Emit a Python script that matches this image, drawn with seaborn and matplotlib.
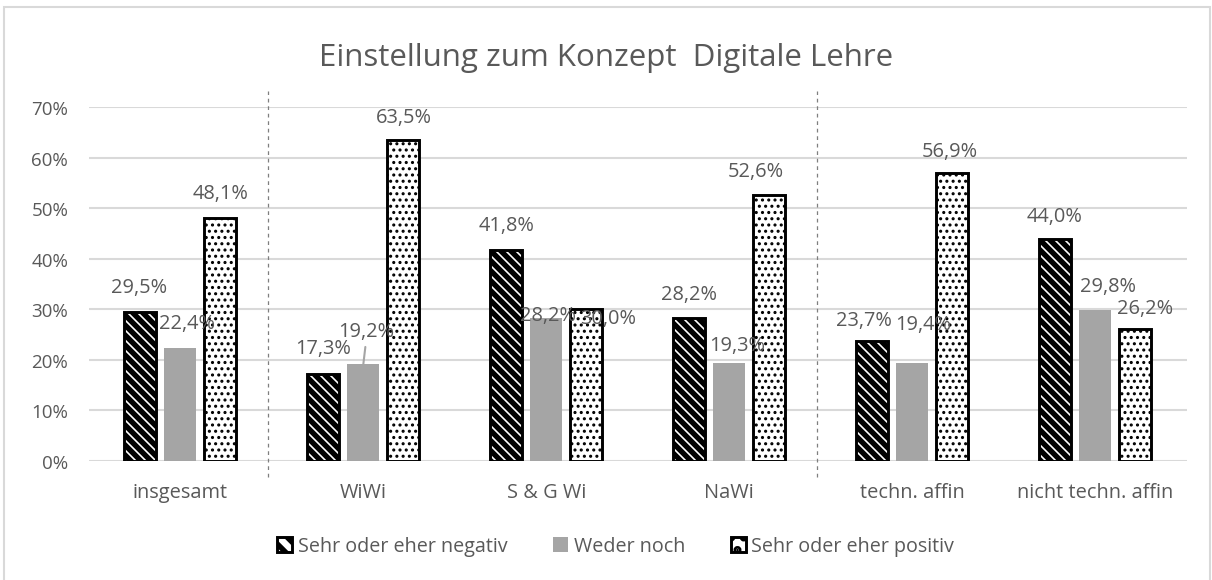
import pandas as pd
import seaborn as sns
import matplotlib.pyplot as plt
from matplotlib.patches import Rectangle, Patch
import matplotlib.transforms as mtransforms

# data
categories = ["insgesamt", "WiWi", "S & G Wi", "NaWi", "techn. affin", "nicht techn. affin"]
series = ["Sehr oder eher negativ", "Weder noch", "Sehr oder eher positiv"]
negativ = [29.5, 17.3, 41.8, 28.2, 23.7, 44.0]
weder = [22.4, 19.2, 28.2, 19.3, 19.4, 29.8]
positiv = [48.1, 63.5, 30.0, 52.6, 56.9, 26.2]
y_ticks = [0, 10, 20, 30, 40, 50, 60, 70]

rows = []
for name, vals in zip(series, [negativ, weder, positiv]):
    for cat, v in zip(categories, vals):
        rows.append({"Kategorie": cat, "Serie": name, "Wert": v / 100})
df = pd.DataFrame(rows)

sns.set_theme(style="white")
plt.rcParams["font.family"] = ["Open Sans", "DejaVu Sans"]
plt.rcParams["hatch.linewidth"] = 2.6
txt = "#595959"
PX = 72 / 150  # pixels -> points

fig = plt.figure(figsize=(8.08, 3.873), dpi=150)
ax = fig.add_axes([0.0734, 0.2048, 0.9056, 0.6092])

palette = {"Sehr oder eher negativ": "white", "Weder noch": "#A5A5A5", "Sehr oder eher positiv": "white"}
sns.barplot(data=df, x="Kategorie", y="Wert", hue="Serie", order=categories, hue_order=series,
            palette=palette, width=0.656, gap=0.2, legend=False, ax=ax, saturation=1)

stripes = "\\" * 5
dots = "...."
hatches = [stripes, "", dots]
for cont, h in zip(ax.containers, hatches):
    for bar in cont:
        if h:
            bar.set_hatch(h)
            bar.set_edgecolor("black")
            bar.set_linewidth(1.4)
            if h == dots and hasattr(bar, "set_hatch_linewidth"):
                bar.set_hatch_linewidth(0.9)
        else:
            bar.set_edgecolor("none")

# label offsets in pixels (dx, dy), keyed by (series, category)
offsets = {
    (0, 0): (-1, 25), (1, 0): (7, 25), (2, 0): (0, 25),
    (0, 1): (0, 26), (1, 1): (3, 33), (2, 1): (1, 23),
    (0, 2): (0, 25), (1, 2): (2, 3), (2, 2): (22, -9),
    (0, 3): (0, 24), (1, 3): (8, 18), (2, 3): (-13, 24),
    (0, 4): (-8, 21), (1, 4): (11, 39), (2, 4): (-2, 22),
    (0, 5): (-1, 23), (1, 5): (13, 24), (2, 5): (10, 21),
}
for si, cont in enumerate(ax.containers):
    for ci, bar in enumerate(cont):
        v = bar.get_height()
        dx, dy = offsets[(si, ci)]
        ax.annotate(f"{v*100:.1f}%".replace(".", ","),
                    (bar.get_x() + bar.get_width() / 2, v),
                    xytext=(dx * PX, dy * PX), textcoords="offset points",
                    ha="center", va="center", fontsize=9.6, color=txt, zorder=10)

# leader line for the WiWi "Weder noch" label
b = ax.containers[1][1]
ax.annotate("", (b.get_x() + b.get_width() / 2, b.get_height()),
            xytext=(2 * PX, 17 * PX), textcoords="offset points",
            arrowprops=dict(arrowstyle="-", color="#A5A5A5", lw=1.0, shrinkA=0, shrinkB=0))

ax.set_ylim(0, 0.7)
ax.set_xlim(-0.5, len(categories) - 0.5)
ax.set_yticks([t / 100 for t in y_ticks])
ax.set_yticklabels([f"{t}%" for t in y_ticks])
ax.yaxis.grid(True, color="#D9D9D9", linewidth=1.0)
ax.set_axisbelow(True)
for s in ax.spines.values():
    s.set_visible(False)
ax.tick_params(axis="x", length=0, labelsize=9.6, colors=txt, pad=10)
ax.tick_params(axis="y", length=0, labelsize=9, colors=txt, pad=10)
ax.set_xlabel("")
ax.set_ylabel("")

# dashed separators
trans = mtransforms.blended_transform_factory(ax.transData, ax.transAxes)
for xs in [0.48, 3.48]:
    ax.plot([xs, xs], [-0.045, 1.045], transform=trans, color="#7F7F7F",
            linestyle=(0, (3, 3)), linewidth=0.6, clip_on=False)

fig.text(0.5, 0.9, "Einstellung zum Konzept  Digitale Lehre", ha="center", va="center",
         fontsize=15, color=txt)

handles = [Patch(facecolor="white", edgecolor="black", hatch="\\\\\\", linewidth=1.4),
           Patch(facecolor="#A5A5A5", edgecolor="none"),
           Patch(facecolor="white", edgecolor="black", hatch="..", linewidth=1.4)]
fig.legend(handles, series, loc="center", bbox_to_anchor=(0.508, 0.058), ncol=3, frameon=False,
           fontsize=9.5, handlelength=0.75, handleheight=0.75, handletextpad=0.3, columnspacing=2.3,
           labelcolor=txt)

fig.add_artist(Rectangle((0.003, -0.01), 0.995, 0.996, transform=fig.transFigure,
                         fill=False, edgecolor="#D9D9D9", linewidth=1.0))

fig.savefig("out.png", dpi=150)
